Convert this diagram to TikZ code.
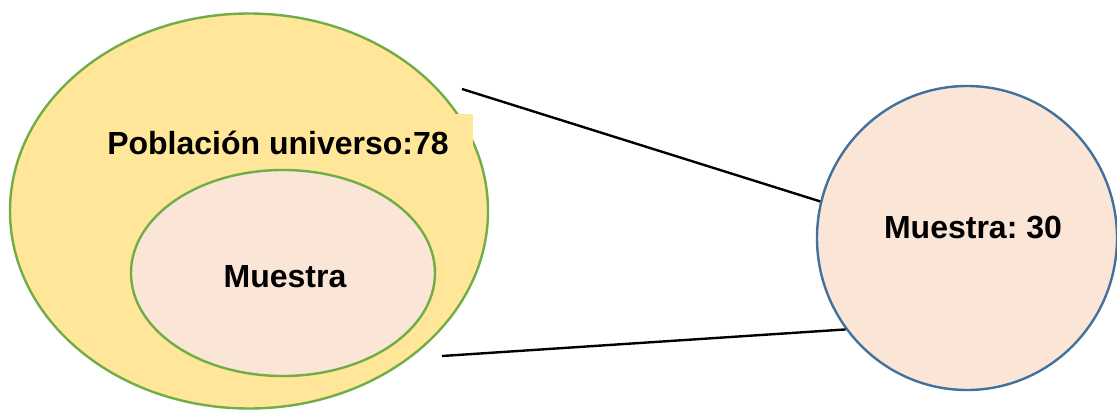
\documentclass[tikz,border=0pt]{standalone}
\usepackage{fontspec}
\setmainfont{Liberation Sans}
\usetikzlibrary{shapes.geometric}
\frenchspacing
\definecolor{yel}{HTML}{FFE699}
\definecolor{grn}{HTML}{70AD47}
\definecolor{pnk}{HTML}{FBE5D6}
\definecolor{blu}{HTML}{41719C}
\tikzset{
  ell/.style={ellipse, inner sep=0pt, line width=2.4pt},
  lbl/.style={font=\fontsize{32}{38}\selectfont\bfseries, text=black},
  conn/.style={draw=black, line width=2.4pt}
}
\begin{document}
\begin{tikzpicture}[x=1pt,y=-1pt]
\useasboundingbox (0,0) rectangle (1117,410);
\node[ell, draw=grn, fill=yel, minimum width=478pt, minimum height=395pt] (pop) at (249,211) {};
\node[lbl, fill=yel, minimum width=390pt, minimum height=58pt, inner sep=0pt] (poptxt) at (278,143) {Población universo:78};
\node[ell, draw=grn, fill=pnk, minimum width=304pt, minimum height=206pt] (mue) at (283,273) {};
\node[lbl] (muetxt) at (285,277) {Muestra};
\node[ell, draw=blu, fill=pnk, minimum width=300pt, minimum height=304pt] (circ) at (967,238) {};
\node[lbl] (circtxt) at (973,228) {Muestra: 30};
\coordinate (a1) at (462,89);
\coordinate (a2) at (442,356);
\draw[conn] (a1) -- (circ.166.6);
\draw[conn] (a2) -- (circ.217.3);
\end{tikzpicture}
\end{document}
